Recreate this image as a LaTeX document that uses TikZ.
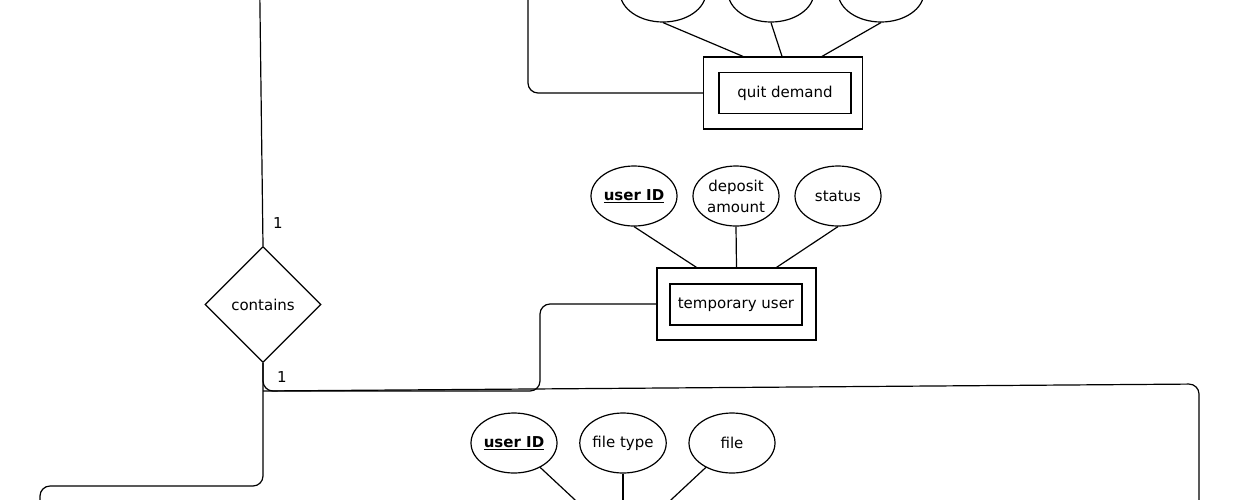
\documentclass[tikz,border=0pt]{standalone}
\usepackage{fontspec}
\setmainfont{DejaVu Sans}
\usepackage{tikz}
\usetikzlibrary{shapes.geometric, calc}

\tikzset{
	attr/.style={draw, ellipse, minimum width=86pt, minimum height=60pt, inner sep=0pt, align=center},
	weakbox/.style={draw, rectangle, minimum width=159pt, minimum height=72pt, inner sep=0pt},
	namebox/.style={draw, rectangle, minimum width=132pt, minimum height=41pt, inner sep=0pt},
	rel/.style={draw, diamond, aspect=1, minimum size=116pt, inner sep=0pt},
	card/.style={inner sep=0pt},
	link/.style={rounded corners=10pt}
}

\begin{document}
\begin{tikzpicture}[x=1pt, y=-1pt, line width=1.2pt, font=\fontsize{15}{21}\selectfont]
				\useasboundingbox (0,0) rectangle (1233,499);
				\node[attr] (qa1) at (663,-8) {};
				\node[attr] (qa2) at (771,-8) {};
				\node[attr] (qa3) at (881,-8) {};
				\node[weakbox] (qdOuter) at (783,93) {};
				\node[namebox] (qd) at (785,93) {quit demand};
				\draw (qa1.south) -- ([xshift=-40pt]qdOuter.north);
				\draw (qa2.south) -- ([xshift=-1pt]qdOuter.north);
				\draw (qa3.south) -- ([xshift=39pt]qdOuter.north);
				\coordinate (qdUp) at (528,-5);
				\draw[link] (qdOuter.west) -| (qdUp);
				\node[attr] (tuid) at (634,196) {\underline{\textbf{user ID}}};
				\node[attr] (tdep) at (736,196) {deposit\\amount};
				\node[attr] (tstat) at (838,196) {status};
				\node[weakbox] (tuOuter) at (736.5,304) {};
				\node[namebox] (tu) at (736,304.5) {temporary user};
				\draw (tuid.south) -- ([xshift=-40pt]tuOuter.north);
				\draw (tdep.south) -- (tuOuter.north);
				\draw (tstat.south) -- ([xshift=40pt]tuOuter.north);
				\node[rel] (contains) at (263,304.5) {contains};
				\node[card] (cardTop) at ([xshift=15pt, yshift=23pt]contains.north) {1};
				\node[card] (cardBot) at ([xshift=19pt, yshift=-14pt]contains.south) {1};
				\coordinate (upEnd) at (259.8,-5);
				\draw (contains.north) -- (upEnd);
				\draw[link] (contains.south) |- (540,391) |- (tuOuter.west);
				\coordinate (junction) at (263,391);
				\coordinate (rightEnd) at (1199,505);
				\draw[link] (junction) -- (1199,384) -- (rightEnd);
				\coordinate (leftEnd) at (40,505);
				\draw[link] (contains.south) |- (40,486) -- (leftEnd);
				\node[attr] (buid) at (514,443) {\underline{\textbf{user ID}}};
				\node[attr] (bft) at (623,443) {file type};
				\node[attr] (bfile) at (732,443) {file};
				\coordinate (fileTop) at (623,512);
				\draw (buid) -- ([xshift=-35pt]fileTop);
				\draw (bft) -- (fileTop);
				\draw (bfile) -- ([xshift=35pt]fileTop);
\end{tikzpicture}
\end{document}
